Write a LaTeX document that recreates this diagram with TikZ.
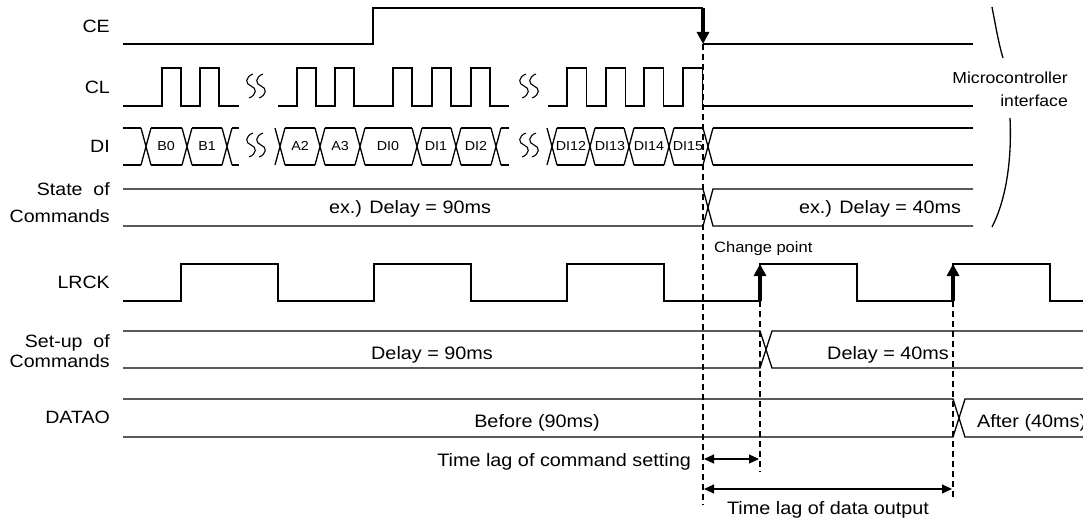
\documentclass[tikz,border=0pt]{standalone}
\usepackage{fontspec}
\setmainfont{Liberation Sans}[FakeStretch=1.1]
\usetikzlibrary{arrows.meta}
\newcommand\xing[1]{\draw[sigline] (#1-5,128) -- (#1+5,165) (#1-5,165) -- (#1+5,128);}
\newcommand\busseg[2]{\draw[sigline] (#1,128) -- (#2,128) (#1,165) -- (#2,165);}
\newcommand\squig[2]{\draw[sigline,line width=1.1pt] (#1+2,#2) .. controls (#1-6,#2+3) and (#1-6,#2+10) .. (#1,#2+12) .. controls (#1+6,#2+14) and (#1+6,#2+21) .. (#1-2,#2+24);}
\begin{document}
\begin{tikzpicture}[x=1pt,y=-1pt,
  sigline/.style={line width=1.3pt, line join=miter},
  dashv/.style={line width=1.1pt, dash pattern=on 6pt off 4pt},
  evarrow/.style={line width=3.5pt, -{Triangle[length=12pt,width=12pt]}},
  lagarrow/.style={line width=1.1pt, {Triangle[length=10pt,width=9pt]}-{Triangle[length=10pt,width=9pt]}},
  lbl/.style={anchor=base east, inner sep=0pt, font=\fontsize{17.8}{20}\selectfont},
  midtxt/.style={anchor=base, inner sep=0pt, font=\fontsize{18}{20}\selectfont},
  celltxt/.style={anchor=base, inner sep=0pt, font=\fontsize{13}{15}\selectfont},
  mctxt/.style={inner sep=0pt, font=\fontsize{16}{18}\selectfont},
  smalltxt/.style={inner sep=0pt, font=\fontsize{15}{17}\selectfont}]
\useasboundingbox (0,0) rectangle (1083,521);
% labels
\node[lbl] (lce) at (110,33) {CE};
\node[lbl] (lcl) at (110,94) {CL};
\node[lbl] (ldi) at (110,153) {DI};
\node[lbl] (lst1) at (110,196) {State\ \ of};
\node[lbl] (lst2) at (110,223) {Commands};
\node[lbl] (llr) at (110,288) {LRCK};
\node[lbl] (lsu1) at (110,347) {Set-up\ \ of};
\node[lbl] (lsu2) at (110,367) {Commands};
\node[lbl] (ldo) at (110,423) {DATAO};
% CE
\coordinate (cetop) at (703,8);
\coordinate (cebot) at (703,44);
\draw[sigline] (123,44) -- (373,44) -- (373,8) -- (cetop);
\draw[evarrow] (cetop) -- (cebot);
\draw[sigline] (cebot) -- (973,44);
% CL
\draw[sigline] (123,106) foreach \r in {162,200} { -- (\r,106) -- (\r,68) -- (\r+19,68) -- (\r+19,106) } -- (239,106);
\draw[sigline] (278,106) foreach \r in {297,335,393,432,471} { -- (\r,106) -- (\r,68) -- (\r+19,68) -- (\r+19,106) } -- (509,106);
\draw[sigline] (548,106) foreach \r in {567,606,644,683} { -- (\r,106) -- (\r,68) -- (\r+19.5,68) -- (\r+19.5,106) } -- (973,106);
\squig{251}{74}\squig{261}{74}
\squig{524}{74}\squig{534}{74}
% DI
\busseg{123}{141}\xing{146}\busseg{151}{182}\xing{187}\busseg{192}{222}\xing{227}\busseg{232}{239}
\xing{280}\busseg{285}{315}\xing{320}\busseg{325}{355}\xing{360}\busseg{365}{412}\xing{417}\busseg{422}{451}\xing{456}\busseg{461}{491}\xing{496}\busseg{501}{509}
\xing{552}\busseg{557}{585}\xing{590}\busseg{595}{624}\xing{629}\busseg{634}{664}\xing{669}\busseg{674}{703}\xing{708}\busseg{713}{973}
\squig{251}{133}\squig{261}{133}
\squig{524}{133}\squig{534}{133}
\node[celltxt] (b0) at (166,151) {B0};
\node[celltxt] (b1) at (207,151) {B1};
\node[celltxt] (a2) at (300,151) {A2};
\node[celltxt] (a3) at (340,151) {A3};
\node[celltxt] (d0) at (388,151) {DI0};
\node[celltxt] (d1) at (436,151) {DI1};
\node[celltxt] (d2) at (476,151) {DI2};
\node[celltxt] (d12) at (571,151) {DI12};
\node[celltxt] (d13) at (610,151) {DI13};
\node[celltxt] (d14) at (649,151) {DI14};
\node[celltxt] (d15) at (688,151) {DI15};
% State of commands
\draw[sigline] (123,189) -- (703,189) -- (713,226) -- (973,226);
\draw[sigline] (123,226) -- (703,226) -- (713,189) -- (973,189);
\node[midtxt] (st90) at (410,214) {ex.) Delay = 90ms};
\node[midtxt] (st40) at (880,214) {ex.) Delay = 40ms};
\node[smalltxt, anchor=base west] (chg) at (714,252) {Change point};
% bracket
\draw[sigline] (992,7) .. controls (996,28) and (999,45) .. (1003,58);
\draw[sigline] (1010,118) .. controls (1012,160) and (1006,200) .. (992,227);
\node[mctxt, anchor=base east] (mc1) at (1068,84) {Microcontroller};
\node[mctxt, anchor=base east] (mc2) at (1068,107) {interface};
% LRCK
\coordinate (l1b) at (760,301);
\coordinate (l1t) at (760,264);
\coordinate (l2b) at (953,301);
\coordinate (l2t) at (953,264);
\draw[sigline] (123,301) -- (181,301) -- (181,264) -- (278,264) -- (278,301) -- (374,301) -- (374,264) -- (471,264) -- (471,301) -- (567,301) -- (567,264) -- (664,264) -- (664,301) -- (l1b) -- (l1t) -- (857,264) -- (857,301) -- (l2b) -- (l2t) -- (1050,264) -- (1050,301) -- (1083,301);
\draw[evarrow] (l1b) -- (l1t);
\draw[evarrow] (l2b) -- (l2t);
% Set-up of commands
\draw[sigline] (123,331) -- (760,331) -- (772,368) -- (1083,368);
\draw[sigline] (123,368) -- (760,368) -- (772,331) -- (1083,331);
\node[midtxt] (su90) at (432,359) {Delay = 90ms};
\node[midtxt] (su40) at (888,359) {Delay = 40ms};
% DATAO
\draw[sigline] (123,399) -- (953,399) -- (965,437) -- (1083,437);
\draw[sigline] (123,437) -- (953,437) -- (965,399) -- (1083,399);
\node[midtxt] (bef) at (537,427) {Before (90ms)};
\node[midtxt, anchor=base west] (aft) at (977,427) {After (40ms)};
% dashed lines
\coordinate (d1e) at (703,505);
\coordinate (d2e) at (760,472);
\coordinate (d3e) at (953,500);
\draw[dashv] (cebot) -- (d1e);
\draw[dashv] (l1b) -- (d2e);
\draw[dashv] (l2b) -- (d3e);
% lag arrows
\coordinate (a1l) at (704,459);
\coordinate (a1r) at (759,459);
\coordinate (a2l) at (704,489);
\coordinate (a2r) at (952,489);
\draw[lagarrow] (a1l) -- (a1r);
\draw[lagarrow] (a2l) -- (a2r);
\node[midtxt, anchor=base east] (tl1) at (691,466) {Time lag of command setting};
\node[midtxt] (tl2) at (828,514) {Time lag of data output};
\end{tikzpicture}
\end{document}
